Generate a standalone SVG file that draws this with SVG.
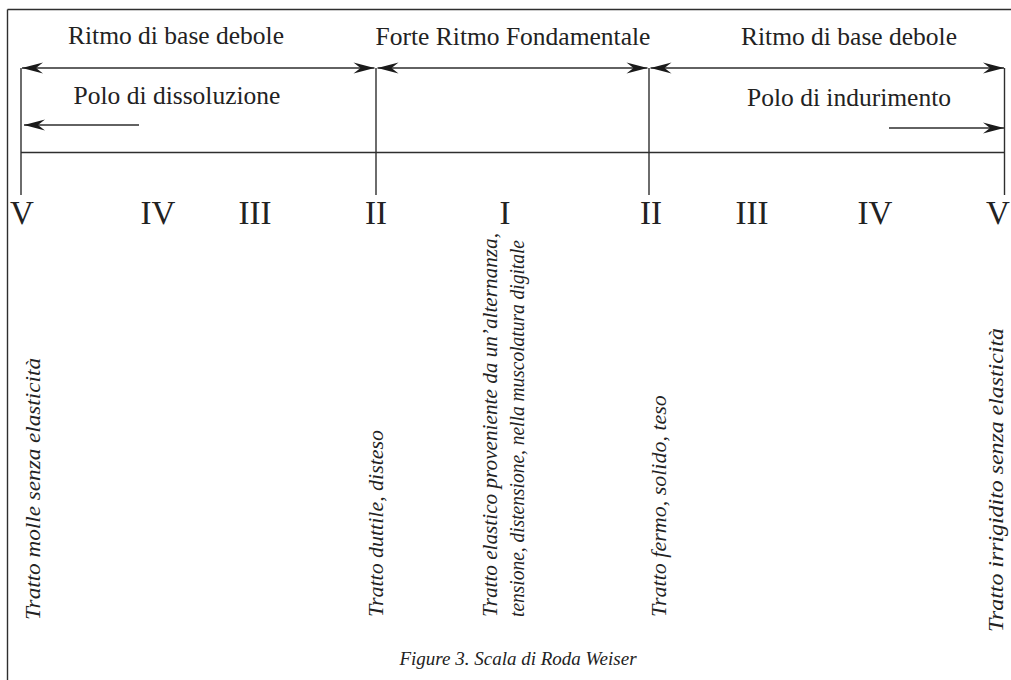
<svg xmlns="http://www.w3.org/2000/svg" width="1011" height="680" viewBox="0 0 1011 680">
<style>
  .ln { stroke: #2e2e2e; stroke-width: 1.4; fill: none; }
  text { font-family: 'Liberation Serif', 'DejaVu Serif', serif; fill: #222; }
  .hd { font-size: 25.5px; text-anchor: middle; }
  .rn { font-size: 33px; text-anchor: middle; }
  .vt { font-style: italic; font-size: 22px; }
  .cap { font-style: italic; font-size: 19px; text-anchor: middle; }
</style>
<defs>
  <marker id="ah" markerUnits="userSpaceOnUse" markerWidth="24" markerHeight="14" viewBox="-22 -7 24 14" refX="0" refY="0" orient="auto-start-reverse">
    <path d="M0,0 L-21,-5.5 L-14,0 L-21,5.5 Z" fill="#1a1a1a"/>
  </marker>
</defs>
<rect width="1011" height="680" fill="#fff"/>
<g id="frame">
  <line class="ln" x1="7.5" y1="9.5" x2="1011" y2="9.5"/>
  <line class="ln" x1="7.5" y1="9.5" x2="7.5" y2="680"/>
</g>
<g id="connectors">
  <line class="ln" x1="21" y1="68" x2="21" y2="195"/>
  <line class="ln" x1="376" y1="68" x2="376" y2="195"/>
  <line class="ln" x1="649" y1="68" x2="649" y2="195"/>
  <line class="ln" x1="1004.5" y1="68" x2="1004.5" y2="195"/>
  <line class="ln" x1="21" y1="152.5" x2="1004.5" y2="152.5"/>
  <line class="ln" x1="22" y1="68" x2="374.5" y2="68" marker-start="url(#ah)" marker-end="url(#ah)"/>
  <line class="ln" x1="377.5" y1="68" x2="647.5" y2="68" marker-start="url(#ah)" marker-end="url(#ah)"/>
  <line class="ln" x1="650.5" y1="68" x2="1004" y2="68" marker-start="url(#ah)" marker-end="url(#ah)"/>
  <line class="ln" x1="139" y1="125" x2="24" y2="125" marker-end="url(#ah)"/>
  <line class="ln" x1="889" y1="128" x2="1004" y2="128" marker-end="url(#ah)"/>
</g>
<g id="headers">
  <text class="hd" x="176" y="44">Ritmo di base debole</text>
  <text class="hd" x="513" y="45">Forte Ritmo Fondamentale</text>
  <text class="hd" x="849" y="45">Ritmo di base debole</text>
  <text class="hd" x="177" y="104">Polo di dissoluzione</text>
  <text class="hd" x="849" y="106">Polo di indurimento</text>
</g>
<g id="numerals">
  <text class="rn" x="22" y="224">V</text>
  <text class="rn" x="158" y="224">IV</text>
  <text class="rn" x="255" y="224">III</text>
  <text class="rn" x="376" y="224">II</text>
  <text class="rn" x="505" y="224">I</text>
  <text class="rn" x="651" y="224">II</text>
  <text class="rn" x="752" y="224">III</text>
  <text class="rn" x="875" y="224">IV</text>
  <text class="rn" x="998" y="224">V</text>
</g>
<g id="descriptions">
  <text class="vt" transform="translate(40,620) rotate(-90)" textLength="262" lengthAdjust="spacingAndGlyphs">Tratto molle senza elasticità</text>
  <text class="vt" transform="translate(383,617) rotate(-90)" textLength="187" lengthAdjust="spacingAndGlyphs">Tratto duttile,  disteso</text>
  <text class="vt" transform="translate(497,617) rotate(-90)" textLength="384" lengthAdjust="spacingAndGlyphs">Tratto elastico proveniente da un’alternanza,</text>
  <text class="vt" transform="translate(524,617) rotate(-90)" textLength="377" lengthAdjust="spacingAndGlyphs">tensione, distensione, nella muscolatura digitale</text>
  <text class="vt" transform="translate(666,617) rotate(-90)">Tratto fermo, solido, teso</text>
  <text class="vt" transform="translate(1003,632) rotate(-90)" textLength="304" lengthAdjust="spacingAndGlyphs">Tratto irrigidito senza elasticità</text>
</g>
<g id="caption">
  <text class="cap" x="518" y="665">Figure 3. Scala di Roda Weiser</text>
</g>
</svg>
